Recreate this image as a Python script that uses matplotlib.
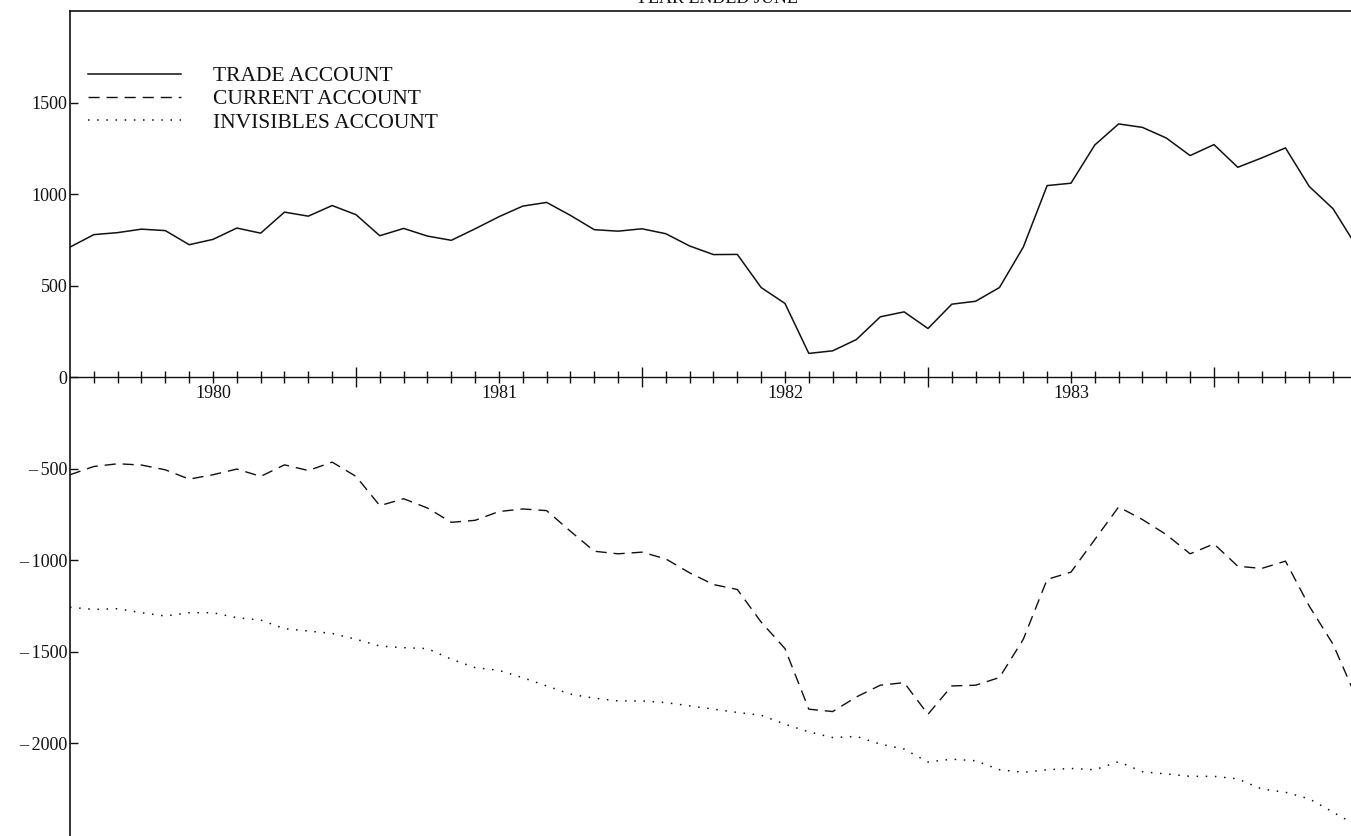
import numpy as np
import matplotlib
matplotlib.use("Agg")
import matplotlib.pyplot as plt
from matplotlib.ticker import FixedLocator, NullFormatter

plt.rcParams['font.family'] = ['Liberation Serif', 'DejaVu Serif']

# monthly series, July 1979 onwards ($m)
months = np.arange(55)
trade = [710, 778, 789, 808, 800, 723, 752, 814, 786, 901, 879, 937, 887,
         772, 812, 770, 747, 810, 876, 934, 954, 883, 805, 797, 810,
         783, 716, 669, 670, 489, 402, 129, 143, 205, 329, 356, 265,
         398, 414, 489, 710, 1046, 1059, 1268, 1383, 1364, 1306, 1210, 1270,
         1146, 1197, 1252, 1041, 919, 710]
current = [-534, -489, -474, -481, -507, -558, -534, -503, -543, -480, -511, -465, -543,
           -703, -665, -716, -794, -783, -735, -721, -730, -843, -952, -966, -957,
           -994, -1070, -1134, -1161, -1339, -1484, -1815, -1828, -1748, -1684, -1670, -1843,
           -1688, -1684, -1642, -1433, -1106, -1066, -888, -710, -779, -861, -966, -912,
           -1034, -1046, -1006, -1252, -1461, -1760]
invisibles = [-1258, -1270, -1266, -1288, -1306, -1288, -1288, -1315, -1328, -1375, -1388, -1401, -1433,
              -1470, -1479, -1484, -1542, -1588, -1603, -1643, -1688, -1733, -1755, -1770, -1770,
              -1779, -1797, -1815, -1833, -1848, -1897, -1939, -1970, -1964, -2006, -2033, -2104,
              -2088, -2097, -2146, -2160, -2146, -2139, -2146, -2102, -2157, -2169, -2182, -2182,
              -2196, -2251, -2269, -2305, -2378, -2451]

year_labels = ['1980', '1981', '1982', '1983']
year_mid = [6, 18, 30, 42]
year_starts = [12, 24, 36, 48]
ytick_values = [-2000, -1500, -1000, -500, 0, 500, 1000, 1500]
ytick_labels = ['\u2013\u20092000', '\u2013\u20091500', '\u2013\u20091000', '\u2013\u2009500',
                '0', '500', '1000', '1500']

W, H = 1351, 836
fig = plt.figure(figsize=(W / 100, H / 100), dpi=100)
ax = fig.add_axes([70 / W, 0, 1 - 70 / W, 1 - 11 / H])

ink = '#111111'
ax.plot(months, trade, color=ink, lw=1.1, label='TRADE ACCOUNT')
ax.plot(months, current, color=ink, lw=1.0, dashes=(8, 5), label='CURRENT ACCOUNT')
ax.plot(months, invisibles, color=ink, lw=1.1, linestyle=(0, (1, 5)), label='INVISIBLES ACCOUNT')

ax.set_xlim(0, 53.75)
ax.set_ylim(-2508, 2000)

# axes frame: left and top only, bottom spine moved to zero
ax.spines['right'].set_visible(False)
ax.spines['bottom'].set_position(('data', 0))
for s in ['left', 'top']:
    ax.spines[s].set_linewidth(1.2)
    ax.spines[s].set_color(ink)
ax.spines['bottom'].set_linewidth(1.0)
ax.spines['bottom'].set_color(ink)

ax.yaxis.set_major_locator(FixedLocator(ytick_values))
ax.set_yticklabels(ytick_labels)
ax.tick_params(axis='y', direction='in', length=6, width=1, pad=2,
               labelsize=13, colors=ink)

ax.xaxis.set_major_locator(FixedLocator(year_starts))
ax.xaxis.set_minor_locator(FixedLocator([m for m in range(1, 54) if m not in year_starts]))
ax.xaxis.set_major_formatter(NullFormatter())
ax.tick_params(axis='x', which='major', direction='inout', length=14, width=1, colors=ink)
ax.tick_params(axis='x', which='minor', direction='inout', length=8, width=1, colors=ink)

for m, lab in zip(year_mid, year_labels):
    ax.annotate(lab, xy=(m, 0), xytext=(0, -6), textcoords='offset points',
                ha='center', va='top', fontsize=13, color=ink)

ax.legend(loc='upper left', bbox_to_anchor=(88 / W, 1 - 66 / H),
          bbox_transform=fig.transFigure, frameon=False, fontsize=15.5,
          handlelength=4.3, handletextpad=1.5, labelspacing=0.15,
          borderpad=0, borderaxespad=0, labelcolor=ink)

fig.text(716 / W, 1 - 3 / H, 'YEAR ENDED JUNE', ha='center', va='baseline',
         fontsize=13, color=ink)

fig.savefig('out.png', dpi=100)
